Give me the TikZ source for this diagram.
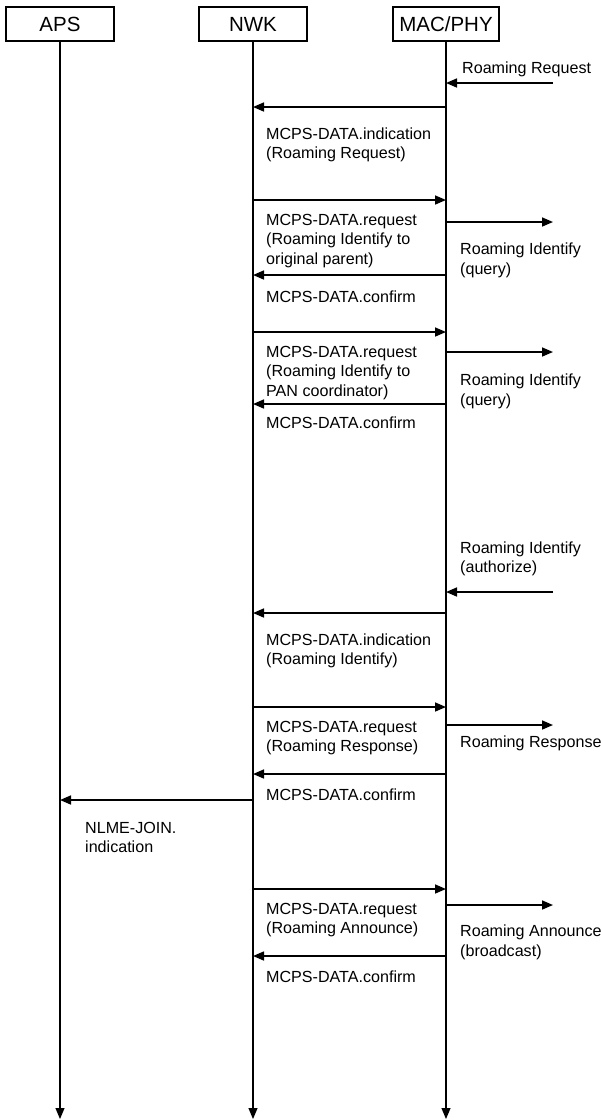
\documentclass[tikz,border=0pt]{standalone}
\usepackage{fontspec}
\setmainfont{Liberation Sans}
\usetikzlibrary{arrows.meta}
\begin{document}
\begin{tikzpicture}[x=1pt,y=-1pt,
  layerbox/.style={draw,line width=1.1pt,minimum height=34pt,inner sep=0pt,font=\fontsize{20.5}{24}\selectfont},
  lifeline/.style={line width=1.1pt,-{Triangle[length=11pt,width=9pt]}},
  msg/.style={line width=1.6pt,-{Triangle[length=11pt,width=9pt]}},
  lbl/.style={anchor=base west,align=left,inner sep=0pt,font=\fontsize{16.1}{19.5}\selectfont}]
\useasboundingbox (0,0) rectangle (601,1120);
% layer boxes
\node[layerbox,minimum width=108pt] (aps) at (60,24) {APS};
\node[layerbox,minimum width=108pt] (nwk) at (253,24) {NWK};
\node[layerbox,minimum width=106pt] (mac) at (446,24) {MAC/PHY};
% lifeline ends
\coordinate (apsEnd) at (60,1119);
\coordinate (nwkEnd) at (253,1119);
\coordinate (macEnd) at (446,1119);
\draw[lifeline] (aps.south) -- (apsEnd);
\draw[lifeline] (nwk.south) -- (nwkEnd);
\draw[lifeline] (mac.south) -- (macEnd);
% message levels
\coordinate (e1) at (553,83);
\coordinate (y2) at (0,107);
\coordinate (y3) at (0,200);
\coordinate (e4) at (553,222);
\coordinate (y5) at (0,275);
\coordinate (y6) at (0,332);
\coordinate (e7) at (553,352);
\coordinate (y8) at (0,404);
\coordinate (e9) at (553,592);
\coordinate (y10) at (0,613);
\coordinate (y11) at (0,707);
\coordinate (e12) at (553,725);
\coordinate (y13) at (0,774);
\coordinate (y14) at (0,800);
\coordinate (y15) at (0,889);
\coordinate (e16) at (553,905);
\coordinate (y17) at (0,956);
% messages
\draw[msg] (e1) -- (mac.south |- e1);
\draw[msg] (mac.south |- y2) -- (nwk.south |- y2);
\draw[msg] (nwk.south |- y3) -- (mac.south |- y3);
\draw[msg] (mac.south |- e4) -- (e4);
\draw[msg] (mac.south |- y5) -- (nwk.south |- y5);
\draw[msg] (nwk.south |- y6) -- (mac.south |- y6);
\draw[msg] (mac.south |- e7) -- (e7);
\draw[msg] (mac.south |- y8) -- (nwk.south |- y8);
\draw[msg] (e9) -- (mac.south |- e9);
\draw[msg] (mac.south |- y10) -- (nwk.south |- y10);
\draw[msg] (nwk.south |- y11) -- (mac.south |- y11);
\draw[msg] (mac.south |- e12) -- (e12);
\draw[msg] (mac.south |- y13) -- (nwk.south |- y13);
\draw[msg] (nwk.south |- y14) -- (aps.south |- y14);
\draw[msg] (nwk.south |- y15) -- (mac.south |- y15);
\draw[msg] (mac.south |- e16) -- (e16);
\draw[msg] (mac.south |- y17) -- (nwk.south |- y17);
% labels (anchor = baseline of the last line)
\node[lbl] (t1) at (462,73) {Roaming Request};
\node[lbl] (t2) at (266,158.5) {MCPS-DATA.indication\\(Roaming Request)};
\node[lbl] (t3) at (266,264) {MCPS-DATA.request\\(Roaming Identify to\\original parent)};
\node[lbl] (t4) at (460,274) {Roaming Identify\\(query)};
\node[lbl] (t5) at (266,302) {MCPS-DATA.confirm};
\node[lbl] (t6) at (266,396) {MCPS-DATA.request\\(Roaming Identify to\\PAN coordinator)};
\node[lbl] (t7) at (460,405) {Roaming Identify\\(query)};
\node[lbl] (t8) at (266,428) {MCPS-DATA.confirm};
\node[lbl] (t9) at (460,572.5) {Roaming Identify\\(authorize)};
\node[lbl] (t10) at (266,664.5) {MCPS-DATA.indication\\(Roaming Identify)};
\node[lbl] (t11) at (266,751.5) {MCPS-DATA.request\\(Roaming Response)};
\node[lbl] (t12) at (460,747) {Roaming Response};
\node[lbl] (t13) at (266,800) {MCPS-DATA.confirm};
\node[lbl] (t14) at (85,852.5) {NLME-JOIN.\\indication};
\node[lbl] (t15) at (266,933.5) {MCPS-DATA.request\\(Roaming Announce)};
\node[lbl] (t16) at (460,956) {Roaming Announce\\(broadcast)};
\node[lbl] (t17) at (266,982) {MCPS-DATA.confirm};
\end{tikzpicture}
\end{document}
